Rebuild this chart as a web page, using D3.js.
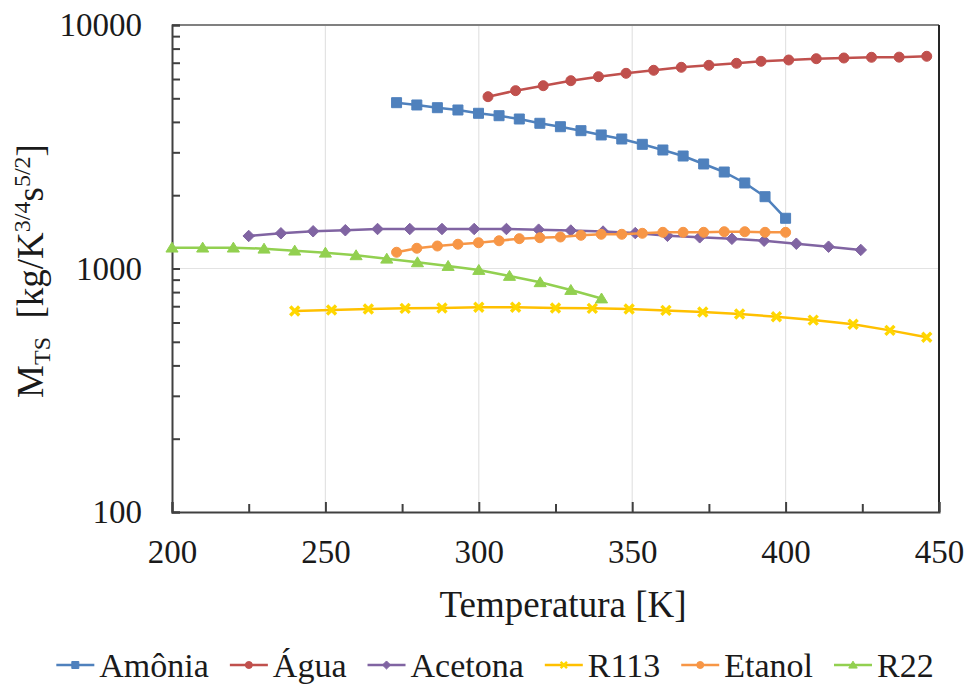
<!DOCTYPE html>
<html>
<head>
<meta charset="utf-8">
<script src="https://cdn.jsdelivr.net/npm/d3@7"></script>
<style>
  html, body { margin: 0; padding: 0; background: #fff; }
  svg { display: block; }
  svg text { font-family: "Liberation Serif", "Tinos", "Times New Roman", "Times", "Noto Serif", "DejaVu Serif", serif; }
</style>
</head>
<body>
<svg id="chart" width="970" height="687"></svg>
<script>
// ---------- DATA ----------
const seriesNames = ["Amônia", "Água", "Acetona", "R113", "Etanol", "R22"];

const amoniaT = [273.2, 279.8, 286.5, 293.2, 299.9, 306.6, 313.2, 319.9, 326.6, 333.3, 339.9, 346.6, 353.3, 360.0, 366.6, 373.3, 380.0, 386.7, 393.3, 400.0];
const amoniaM = [4797, 4694, 4575, 4477, 4339, 4241, 4111, 3948, 3822, 3681, 3535, 3403, 3236, 3067, 2897, 2687, 2490, 2245, 1972, 1608];

const aguaT = [303, 312, 321, 330, 339, 348, 357, 366, 375, 384, 392, 401, 410, 419, 428, 437, 446];
const aguaM = [5077, 5375, 5633, 5906, 6134, 6333, 6516, 6703, 6831, 6961, 7094, 7183, 7271, 7320, 7369, 7380, 7439];

const acetonaT = [225, 235.5, 246, 256.5, 267, 277.5, 288, 298.5, 309, 319.5, 330, 340.5, 351, 361.5, 372, 382.5, 393, 403.5, 414, 424.5];
const acetonaM = [1360, 1395, 1422, 1436, 1453, 1453, 1453, 1453, 1453, 1444, 1432, 1418, 1398, 1362, 1343, 1324, 1300, 1264, 1229, 1192];

const r113T = [240, 252, 264, 276, 288, 300, 312, 325, 337, 349, 361, 373, 385, 397, 409, 422, 434, 446];
const r113M = [669, 675, 682, 686, 688, 693, 693, 688, 686, 682, 673, 663, 650, 634, 614, 590, 557, 522];

const etanolT = [273.2, 279.8, 286.5, 293.2, 299.9, 306.6, 313.2, 319.9, 326.6, 333.3, 339.9, 346.6, 353.3, 360.0, 366.6, 373.3, 380.0, 386.7, 393.3, 400.0];
const etanolM = [1166, 1211, 1237, 1258, 1276, 1300, 1326, 1338, 1347, 1369, 1382, 1382, 1395, 1408, 1408, 1408, 1416, 1416, 1408, 1408];

const r22T = [200, 210, 220, 230, 240, 250, 260, 270, 280, 290, 300, 310, 320, 330, 340];
const r22M = [1218, 1218, 1218, 1206, 1184, 1161, 1133, 1097, 1060, 1024, 986, 932, 878, 816, 753];

const xTickValues = [200, 250, 300, 350, 400, 450];
const xMinorTickValues = [225, 275, 325, 375, 425];
const yTickValues = [100, 1000, 10000];
const yMinorTickValues = [200, 300, 400, 500, 600, 700, 800, 900, 2000, 3000, 4000, 5000, 6000, 7000, 8000, 9000];

const xTitle = "Temperatura [K]";

// ---------- LAYOUT ----------
const svg = d3.select("#chart");
const L = 172, R = 939, T = 25, B = 512;
const FONT = '"Liberation Serif", "Tinos", "Times New Roman", "Times", "Noto Serif", "DejaVu Serif", serif';

const x = d3.scaleLinear().domain([200, 450]).range([L, R]);
const y = d3.scaleLog().domain([100, 10000]).range([B, T]);

const colors = {
  "Amônia": "#4F81BD",
  "Água": "#C0504D",
  "Acetona": "#8064A2",
  "R113": "#FFC000",
  "Etanol": "#F79646",
  "R22": "#92D050"
};
const markers = {
  "Amônia": "square",
  "Água": "circle",
  "Acetona": "diamond",
  "R113": "x",
  "Etanol": "circle",
  "R22": "triangle"
};

const series = [
  { name: "Amônia", T: amoniaT, M: amoniaM },
  { name: "Água", T: aguaT, M: aguaM },
  { name: "Acetona", T: acetonaT, M: acetonaM },
  { name: "R113", T: r113T, M: r113M },
  { name: "Etanol", T: etanolT, M: etanolM },
  { name: "R22", T: r22T, M: r22M }
];

// gridlines
const grid = svg.append("g");
grid.selectAll("line.vg").data(xTickValues.slice(1, -1)).join("line")
  .attr("x1", d => x(d)).attr("x2", d => x(d))
  .attr("y1", T).attr("y2", B)
  .attr("stroke", "#e3e3e3").attr("stroke-width", 1.2);
grid.selectAll("line.hg").data(yTickValues.slice(1, -1)).join("line")
  .attr("x1", L).attr("x2", R)
  .attr("y1", d => y(d)).attr("y2", d => y(d))
  .attr("stroke", "#e3e3e3").attr("stroke-width", 1.2);

// frame (top/right)
svg.append("line").attr("x1", L).attr("x2", R).attr("y1", T).attr("y2", T)
  .attr("stroke", "#808080").attr("stroke-width", 2);
svg.append("line").attr("x1", R).attr("x2", R).attr("y1", T).attr("y2", B)
  .attr("stroke", "#262626").attr("stroke-width", 2);

// axes
const tickFont = 33;
const xAxis = d3.axisBottom(x).tickValues(xTickValues).tickSize(-10).tickPadding(28)
  .tickFormat(d3.format("d"));
const gx = svg.append("g").attr("transform", `translate(0,${B})`).call(xAxis);
gx.attr("font-family", null).attr("font-size", null);
gx.select(".domain").attr("stroke", "#404040").attr("stroke-width", 2);
gx.selectAll(".tick line").attr("stroke", "#404040").attr("stroke-width", 2);
gx.selectAll(".tick text").attr("font-size", tickFont).attr("fill", "#1a1a1a")
  .style("font-family", FONT);

const xMinor = d3.axisBottom(x).tickValues(xMinorTickValues).tickSize(-8).tickFormat("");
const gxm = svg.append("g").attr("transform", `translate(0,${B})`).call(xMinor);
gxm.select(".domain").remove();
gxm.selectAll(".tick line").attr("stroke", "#404040").attr("stroke-width", 2);

const yAxis = d3.axisLeft(y).tickValues(yTickValues).tickSize(-8).tickPadding(30)
  .tickFormat(d3.format("d"));
const gy = svg.append("g").attr("transform", `translate(${L},0)`).call(yAxis);
gy.attr("font-family", null).attr("font-size", null);
gy.select(".domain").attr("stroke", "#404040").attr("stroke-width", 2);
gy.selectAll(".tick line").attr("stroke", "#404040").attr("stroke-width", 2);
gy.selectAll(".tick text").attr("font-size", tickFont).attr("fill", "#1a1a1a")
  .style("font-family", FONT);

const yMinor = d3.axisLeft(y).tickValues(yMinorTickValues).tickSize(-8).tickFormat("");
const gym = svg.append("g").attr("transform", `translate(${L},0)`).call(yMinor);
gym.select(".domain").remove();
gym.selectAll(".tick line").attr("stroke", "#404040").attr("stroke-width", 2);

// marker path generator
function markerPath(type, s) {
  const h = s / 2;
  switch (type) {
    case "square": return `M${-h},${-h}H${h}V${h}H${-h}Z`;
    case "circle": return d3.symbol(d3.symbolCircle, Math.PI * h * h)();
    case "diamond": { const d = h * 1.15; return `M0,${-d}L${d},0L0,${d}L${-d},0Z`; }
    case "triangle": { const t = h * 1.1; return `M0,${-t}L${t * 1.1},${t * 0.8}L${-t * 1.1},${t * 0.8}Z`; }
    case "x": { const k = h * 0.9; return `M${-k},${-k}L${k},${k}M${k},${-k}L${-k},${k}`; }
  }
}

// series
const line = d3.line().x(d => x(d[0])).y(d => y(d[1]));
const plot = svg.append("g");
series.forEach(s => {
  const pts = s.T.map((t, i) => [t, s.M[i]]);
  const c = colors[s.name];
  const g = plot.append("g");
  g.append("path").datum(pts).attr("d", line)
    .attr("fill", "none").attr("stroke", c).attr("stroke-width", 2.5)
    .attr("stroke-linejoin", "round");
  const mt = markers[s.name];
  g.selectAll("path.m").data(pts).join("path").attr("class", "m")
    .attr("transform", d => `translate(${x(d[0])},${y(d[1])})`)
    .attr("d", markerPath(mt, 10))
    .attr("fill", mt === "x" ? "none" : c)
    .attr("stroke", mt === "x" ? "#FFD700" : c)
    .attr("stroke-width", mt === "x" ? 3.4 : 1);
});

// axis titles
svg.append("text").attr("x", 563).attr("y", 617).attr("text-anchor", "middle")
  .attr("font-size", 37).attr("fill", "#1a1a1a").style("font-family", FONT).text(xTitle);

const yt = svg.append("text")
  .attr("transform", "translate(43,271) rotate(-90)")
  .attr("text-anchor", "middle").attr("font-size", 37).attr("fill", "#1a1a1a")
  .style("font-family", FONT);
yt.append("tspan").text("M");
yt.append("tspan").attr("font-size", 24).attr("dy", 7).text("TS");
yt.append("tspan").attr("dy", -7).text("\u00a0 [kg/K");
yt.append("tspan").attr("font-size", 24).attr("dy", -13).text("3/4");
yt.append("tspan").attr("dy", 13).text("s");
yt.append("tspan").attr("font-size", 24).attr("dy", -13).text("5/2");
yt.append("tspan").attr("dy", 13).text("]");

// legend
const legend = svg.append("g");
const legFont = 34, lineLen = 38, gapText = 5, gapItem = 21;
let cx = 0;
seriesNames.forEach(name => {
  const g = legend.append("g");
  const c = colors[name];
  g.append("line").attr("x1", 0).attr("x2", lineLen).attr("y1", 0).attr("y2", 0)
    .attr("stroke", c).attr("stroke-width", 2.4);
  const mt = markers[name];
  g.append("path").attr("transform", `translate(${lineLen / 2},0)`)
    .attr("d", markerPath(mt, 7))
    .attr("fill", mt === "x" ? "none" : c)
    .attr("stroke", mt === "x" ? "#FFD700" : c)
    .attr("stroke-width", mt === "x" ? 2.4 : 1);
  const t = g.append("text").attr("x", lineLen + gapText).attr("y", 12)
    .attr("font-size", legFont).attr("fill", "#1a1a1a").style("font-family", FONT).text(name);
  const w = t.node().getComputedTextLength();
  g.attr("transform", `translate(${cx},0)`);
  cx += lineLen + gapText + w + gapItem;
});
const totalW = cx - gapItem;
legend.attr("transform", `translate(${495 - totalW / 2},665)`);
</script>
</body>
</html>
